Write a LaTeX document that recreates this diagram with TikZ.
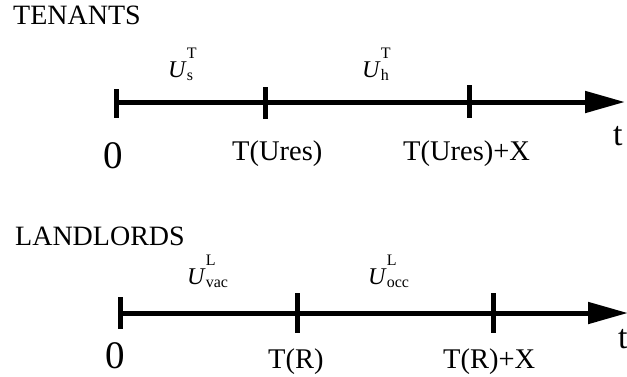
\documentclass[tikz,border=0pt]{standalone}
\usepackage{fontspec}
\setmainfont{Liberation Serif}
\usetikzlibrary{arrows.meta}
\newcommand{\ulab}[3]{\fontsize{24}{26}\selectfont\textit{#1}\fontsize{16}{18}\selectfont\rlap{\raisebox{19pt}{#2}}\raisebox{-3pt}{#3}}
\tikzset{
  axisline/.style={line width=5pt, -{Triangle[length=40pt 0 0,width=21pt 0 0]}},
  tickmark/.style={line width=5pt},
  lab/.style={anchor=base west, inner sep=0pt, font=\fontsize{28.5}{30}\selectfont},
  head/.style={anchor=base west, inner sep=0pt, font=\fontsize{28}{30}\selectfont},
  zero/.style={anchor=base, inner sep=0pt, font=\fontsize{39}{41}\selectfont},
  tlab/.style={anchor=base west, inner sep=0pt, font=\fontsize{34}{36}\selectfont},
  ulabel/.style={anchor=base west, inner sep=0pt}
}
\begin{document}
\begin{tikzpicture}[x=1pt,y=-1pt]
\useasboundingbox (0,0) rectangle (627,376);
% ---------- TENANTS ----------
\node[head] (ten) at (13,24) {TENANTS};
\coordinate (a0) at (116,102);
\coordinate (a1) at (265,102);
\coordinate (a2) at (469,102);
\coordinate (aend) at (625,102);
\coordinate (a0t) at (116,89);  \coordinate (a0b) at (116,118);
\coordinate (a1t) at (265,87);  \coordinate (a1b) at (265,119);
\coordinate (a2t) at (469,85);  \coordinate (a2b) at (469,118);
\draw[axisline] (a0) -- (aend);
\draw[tickmark] (a0t) -- (a0b);
\draw[tickmark] (a1t) -- (a1b);
\draw[tickmark] (a2t) -- (a2b);
\node[ulabel] (us) at (168,77) {\ulab{U}{T}{s}};
\node[ulabel] (uh) at (362,77) {\ulab{U}{T}{h}};
\node[zero] (z1) at (113,168) {0};
\node[lab] (tu) at (232,160) {T(Ures)};
\node[lab] (tux) at (403,160) {T(Ures)+X};
\node[tlab] (t1) at (613,145) {t};
% ---------- LANDLORDS ----------
\node[head] (land) at (15,245) {LANDLORDS};
\coordinate (b0) at (120,313);
\coordinate (b1) at (297,313);
\coordinate (b2) at (493,313);
\coordinate (bend) at (628,313);
\coordinate (b0t) at (120,297);  \coordinate (b0b) at (120,329);
\coordinate (b1t) at (297,293);  \coordinate (b1b) at (297,333);
\coordinate (b2t) at (493,293);  \coordinate (b2b) at (493,333);
\draw[axisline] (b0) -- (bend);
\draw[tickmark] (b0t) -- (b0b);
\draw[tickmark] (b1t) -- (b1b);
\draw[tickmark] (b2t) -- (b2b);
\node[ulabel] (uv) at (187,284) {\ulab{U}{L}{vac}};
\node[ulabel] (uo) at (368,284) {\ulab{U}{L}{occ}};
\node[zero] (z2) at (115,368) {0};
\node[lab] (tr) at (268,368) {T(R)};
\node[lab] (trx) at (443,368) {T(R)+X};
\node[tlab] (t2) at (618,348) {t};
\end{tikzpicture}
\end{document}
